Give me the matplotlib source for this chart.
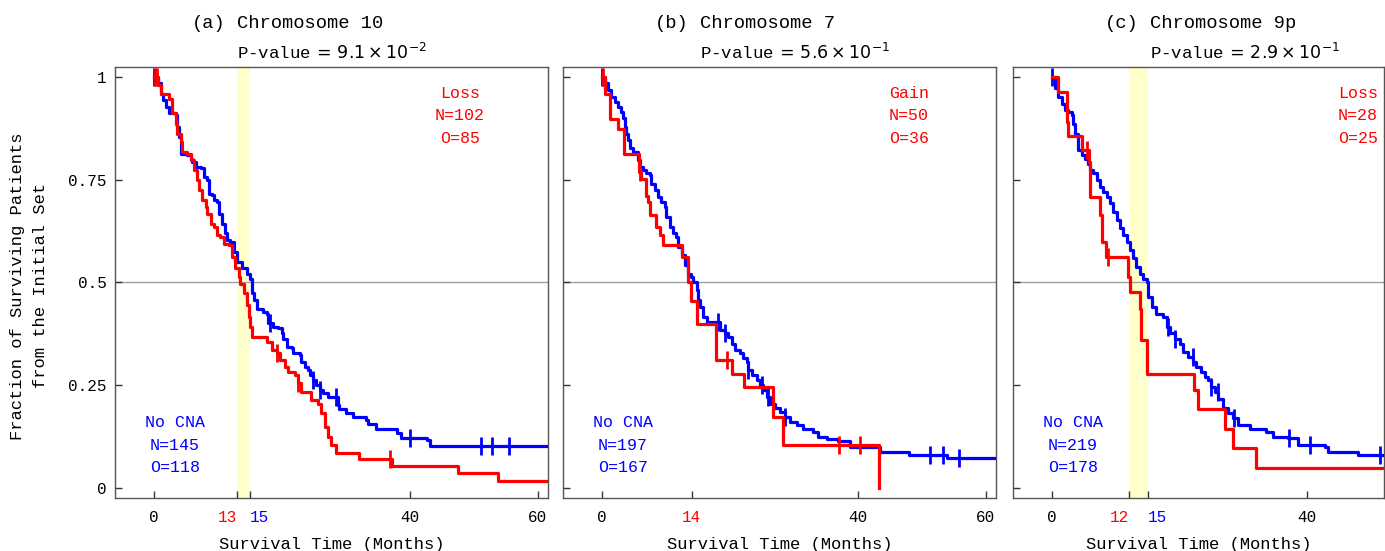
import numpy as np
import matplotlib
matplotlib.use('Agg')
import matplotlib.pyplot as plt

W, H = 1385, 551
plt.rcParams['font.family'] = ['Liberation Mono', 'DejaVu Sans']
plt.rcParams['mathtext.fontset'] = 'dejavusans'

BLUE = '#0000ff'
RED = '#ff0000'

# ---------------- data (months, fraction surviving) ----------------
# Panel (a) Chromosome 10
a_blue_t = [0, 0.57, 1.09, 1.34, 1.86, 2.38, 3.41, 3.67, 3.93, 4.19, 5.22, 5.74, 5.99, 6.51, 7.29,
            7.8, 8.32, 8.58, 9.1, 9.35, 9.87, 10.13, 10.65, 11.16, 11.42, 11.94, 12.45, 12.97,
            13.75, 14.52, 15.04, 15.3, 15.56, 16.07, 17.1, 17.62, 17.88, 18.66, 19.43, 19.95,
            20.2, 20.72, 21.5, 21.76, 22.79, 23.05, 23.57, 24.08, 24.34, 24.86, 25.37, 25.89,
            26.41, 27.18, 28.73, 28.99, 30.03, 31.06, 33.13, 33.39, 34.68, 38.04, 38.55, 42.69,
            43.2, 61.6]
a_blue_s = [1.0, 0.984, 0.959, 0.943, 0.927, 0.911, 0.907, 0.878, 0.854, 0.813, 0.809, 0.801, 0.793,
            0.781, 0.777, 0.757, 0.749, 0.716, 0.712, 0.700, 0.696, 0.667, 0.643, 0.619, 0.603,
            0.599, 0.574, 0.550, 0.534, 0.521, 0.509, 0.473, 0.457, 0.436, 0.428, 0.424, 0.400,
            0.392, 0.388, 0.376, 0.363, 0.343, 0.339, 0.327, 0.323, 0.307, 0.294, 0.286, 0.274,
            0.262, 0.250, 0.238, 0.230, 0.221, 0.201, 0.191, 0.181, 0.171, 0.165, 0.154, 0.142,
            0.132, 0.122, 0.116, 0.102, 0.102]
a_blue_cens = [0.0, 18.1, 24.9, 25.9, 28.5, 40.1, 51.1, 52.9, 55.5]
a_red_t = [0, 0.57, 1.09, 2.38, 2.89, 3.41, 3.67, 4.19, 4.44, 5.22, 5.74, 6.25, 6.77, 7.03, 7.55,
           8.06, 8.32, 8.84, 9.35, 9.87, 10.39, 10.9, 11.68, 12.2, 12.71, 13.23, 13.49, 14.01,
           14.52, 14.78, 15.04, 15.3, 17.62, 18.4, 19.17, 19.69, 20.47, 20.98, 22.02, 22.53,
           23.05, 24.6, 25.63, 26.15, 26.67, 27.18, 27.7, 28.48, 32.09, 37.26, 47.6, 53.8, 61.6]
a_red_s = [1.0, 0.980, 0.959, 0.947, 0.911, 0.886, 0.862, 0.842, 0.818, 0.813, 0.797, 0.773, 0.749,
           0.724, 0.700, 0.684, 0.667, 0.643, 0.635, 0.615, 0.611, 0.594, 0.590, 0.562, 0.534,
           0.513, 0.497, 0.473, 0.444, 0.416, 0.392, 0.367, 0.355, 0.335, 0.327, 0.311, 0.294,
           0.282, 0.274, 0.254, 0.234, 0.213, 0.205, 0.181, 0.148, 0.124, 0.104, 0.084, 0.071,
           0.053, 0.035, 0.017, 0.017]
a_red_cens = [0.2, 0.5, 19.17, 22.53, 36.9]

# Panel (b) Chromosome 7
b_blue_t = [0, 0.42, 0.94, 1.46, 1.98, 2.51, 3.03, 3.29, 3.55, 3.81, 4.07, 4.33, 4.86, 5.64, 5.9,
            6.42, 6.95, 7.47, 7.73, 8.25, 8.77, 9.3, 9.82, 10.08, 10.6, 11.12, 11.64, 11.91,
            12.43, 12.95, 13.47, 13.99, 14.26, 14.78, 15.04, 15.3, 15.82, 16.34, 18.43, 19.22,
            19.74, 20.26, 20.78, 21.57, 22.09, 22.61, 22.87, 23.39, 24.18, 24.7, 25.22, 25.74,
            26.27, 27.05, 27.83, 28.62, 29.4, 30.44, 31.49, 33.05, 33.84, 35.14, 36.97, 38.8,
            43.5, 47.94, 53.94, 61.6]
b_blue_s = [1.0, 0.984, 0.968, 0.951, 0.939, 0.927, 0.915, 0.899, 0.878, 0.862, 0.846, 0.826, 0.818,
            0.797, 0.781, 0.773, 0.765, 0.761, 0.740, 0.724, 0.708, 0.696, 0.684, 0.659, 0.635,
            0.619, 0.611, 0.586, 0.566, 0.542, 0.521, 0.513, 0.501, 0.481, 0.457, 0.440, 0.416,
            0.404, 0.384, 0.376, 0.367, 0.351, 0.335, 0.327, 0.315, 0.307, 0.286, 0.274, 0.262,
            0.250, 0.238, 0.221, 0.205, 0.193, 0.185, 0.173, 0.161, 0.152, 0.144, 0.136, 0.124,
            0.118, 0.114, 0.100, 0.088, 0.079, 0.073, 0.073]
b_blue_cens = [0.0, 18.17, 19.22, 22.87, 24.96, 26.0, 28.62, 51.33, 53.26, 55.87]
b_red_t = [0, 0.42, 1.2, 2.51, 3.45, 5.74, 6.16, 6.95, 7.21, 7.57, 8.51, 9.03, 9.56, 12.43, 13.37,
           13.84, 14.88, 17.81, 20.26, 22.25, 26.79, 28.25, 43.24]
b_red_s = [1.0, 0.959, 0.898, 0.873, 0.813, 0.768, 0.752, 0.711, 0.695, 0.663, 0.634, 0.614, 0.590,
           0.561, 0.501, 0.455, 0.398, 0.311, 0.278, 0.246, 0.173, 0.104, 0.0]
b_red_cens = [0.2, 5.9, 19.48, 37.08, 40.37]

# Panel (c) Chromosome 9p
c_blue_t = [0, 0.47, 0.99, 1.51, 2.03, 2.55, 3.08, 3.34, 3.6, 4.01, 4.64, 5.16, 5.68, 5.94, 6.47,
            6.99, 7.51, 8.03, 8.55, 9.07, 9.59, 10.11, 10.64, 11.16, 11.68, 12.2, 12.72, 13.24,
            13.76, 14.29, 14.81, 15.07, 15.59, 16.37, 17.41, 17.94, 18.46, 19.24, 20.02, 20.54,
            21.32, 22.11, 22.63, 23.41, 23.93, 24.45, 24.97, 25.49, 26.02, 26.8, 27.58, 28.36,
            29.15, 30.97, 33.58, 34.62, 36.97, 38.53, 42.7, 43.22, 47.91, 52.0]
c_blue_s = [1.0, 0.972, 0.951, 0.935, 0.919, 0.915, 0.907, 0.886, 0.862, 0.822, 0.809, 0.801, 0.789,
            0.773, 0.765, 0.749, 0.732, 0.720, 0.708, 0.692, 0.672, 0.651, 0.631, 0.615, 0.599,
            0.578, 0.558, 0.538, 0.521, 0.509, 0.501, 0.465, 0.440, 0.424, 0.416, 0.392, 0.376,
            0.363, 0.351, 0.331, 0.319, 0.307, 0.294, 0.282, 0.270, 0.262, 0.246, 0.234, 0.217,
            0.193, 0.181, 0.169, 0.152, 0.144, 0.136, 0.124, 0.120, 0.104, 0.100, 0.088, 0.079,
            0.079]
c_blue_cens = [0.0, 18.2, 19.24, 22.1, 24.97, 26.0, 28.5, 37.07, 40.35, 51.4]
c_red_t = [0, 0.99, 2.29, 2.55, 4.64, 5.79, 5.94, 7.51, 7.77, 8.45, 11.94, 12.2, 13.76, 13.92,
           14.91, 22.26, 22.89, 27.16, 28.36, 32.01, 52.0]
c_red_s = [1.0, 0.963, 0.890, 0.857, 0.821, 0.792, 0.707, 0.663, 0.598, 0.561, 0.513, 0.476, 0.436,
           0.359, 0.278, 0.238, 0.191, 0.142, 0.096, 0.047, 0.047]
c_red_cens = [5.42, 8.81]

titles = ['(a)', '(b)', '(c)']
chromosomes = ['Chromosome 10', 'Chromosome 7', 'Chromosome 9p']
pvalues = [r'9.1\times10^{-2}', r'5.6\times10^{-1}', r'2.9\times10^{-1}']
alt_names = ['Loss', 'Gain', 'Loss']
alt_N = [102, 50, 28]
alt_O = [85, 36, 25]
ref_N = [145, 197, 219]
ref_O = [118, 167, 178]
median_red = [13, 14, 12]
median_blue = [15, 14, 15]
xlims = [(-6.1, 61.6), (-6.1, 61.6), (-6.1, 52.0)]
plain_xticks = [[0, 40, 60], [0, 40, 60], [0, 40]]
yticks = [0, 0.25, 0.5, 0.75, 1]
ytick_labels = ['0', '0.25', '0.5', '0.75', '1']

curves = [
    (a_blue_t, a_blue_s, a_blue_cens, a_red_t, a_red_s, a_red_cens),
    (b_blue_t, b_blue_s, b_blue_cens, b_red_t, b_red_s, b_red_cens),
    (c_blue_t, c_blue_s, c_blue_cens, c_red_t, c_red_s, c_red_cens),
]

# ---------------- layout (pixels) ----------------
fig = plt.figure(figsize=(W / 100, H / 100), dpi=100)
ax_px = [(115, 548), (563, 996), (1013, 1384)]
top_px, bot_px = 67, 498
title_x = [(192, 237), (655, 700), (1105, 1150)]
alt_cx = [460, 909, 1358]
ref_cx = [175, 623, 1073]


def fx(x):
    return x / W


def fy(y):
    return 1 - y / H


def surv_at(t, s, c):
    i = np.searchsorted(t, c, side='right') - 1
    return s[max(i, 0)]


for k in range(3):
    l, r = ax_px[k]
    ax = fig.add_axes([fx(l), fy(bot_px), (r - l) / W, (bot_px - top_px) / H])
    ax.set_xlim(*xlims[k])
    ax.set_ylim(-0.025, 1.024)

    bt, bs, bc, rt, rs, rc = curves[k]
    bt, bs, rt, rs = map(np.asarray, (bt, bs, rt, rs))

    if median_red[k] != median_blue[k]:
        ax.axvspan(median_red[k], median_blue[k], color='#ffffcc', zorder=0, lw=0)
    ax.axhline(0.5, color='#a0a0a0', lw=1.0, zorder=1)

    ax.step(bt, bs, where='post', color=BLUE, lw=2.3, zorder=3)
    ax.plot(bc, [surv_at(bt, bs, c) for c in bc], ls='none', marker='|', ms=13, mew=2.0,
            color=BLUE, zorder=3)
    ax.step(rt, rs, where='post', color=RED, lw=2.3, zorder=4)
    ax.plot(rc, [surv_at(rt, rs, c) for c in rc], ls='none', marker='|', ms=13, mew=2.0,
            color=RED, zorder=4)

    # ticks
    ticks = sorted(set(plain_xticks[k] + [median_red[k], median_blue[k]]))
    ax.set_xticks(ticks)
    ax.set_xticklabels([str(t) for t in ticks])
    split = median_red[k] != median_blue[k]
    for lab, t in zip(ax.get_xticklabels(), ticks):
        if t == median_red[k]:
            lab.set_color(RED)
            if split:
                lab.set_ha('right')
        elif t == median_blue[k]:
            lab.set_color(BLUE)
            if split:
                lab.set_ha('left')
    ax.set_yticks(yticks)
    if k == 0:
        ax.set_yticklabels(ytick_labels)
    else:
        ax.set_yticklabels([])
    ax.tick_params(direction='in', length=5, width=1, color='#333333', labelsize=11.5,
                   top=False, right=False)
    ax.tick_params(axis='x', pad=9)
    ax.tick_params(axis='y', pad=6)
    for sp in ax.spines.values():
        sp.set_color('#555555')
        sp.set_linewidth(1.0)

    ax.set_xlabel('Survival Time (Months)', fontsize=12.3, labelpad=8)

    # titles
    tx0, tx1 = title_x[k]
    fig.text(fx(tx0), fy(28), titles[k], fontsize=13.5, ha='left', va='baseline')
    fig.text(fx(tx1), fy(28), chromosomes[k], fontsize=13.5, ha='left', va='baseline')
    fig.text(fx(tx1), fy(59), r'P-value$\,=\,' + pvalues[k] + '$', fontsize=12.5,
             ha='left', va='baseline')

    # group annotations
    fig.text(fx(alt_cx[k]), fy(116), f'{alt_names[k]}\nN={alt_N[k]}\nO={alt_O[k]}',
             color=RED, fontsize=12, ha='center', va='center', linespacing=1.6)
    fig.text(fx(ref_cx[k]), fy(445), f'No CNA\nN={ref_N[k]}\nO={ref_O[k]}',
             color=BLUE, fontsize=12, ha='center', va='center', linespacing=1.6)

fig.text(fx(18), fy(286), 'Fraction of Surviving Patients', rotation=90, fontsize=12.3,
         ha='center', va='center')
fig.text(fx(41), fy(286), 'from the Initial Set', rotation=90, fontsize=12.3,
         ha='center', va='center')

fig.savefig('out.png', dpi=100)
